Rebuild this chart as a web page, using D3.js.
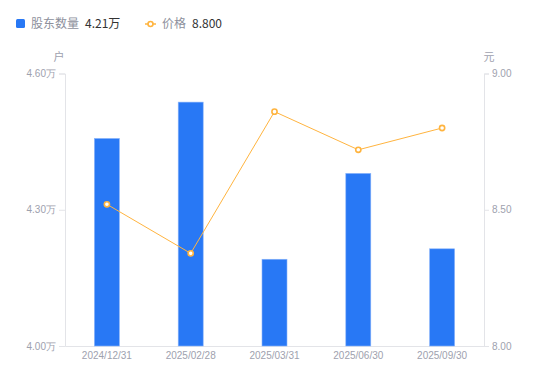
<!DOCTYPE html>
<html>
<head>
<meta charset="utf-8">
<script src="https://cdn.jsdelivr.net/npm/d3@7"></script>
<style>
  html, body { margin: 0; padding: 0; background: #fff; }
  svg { display: block; font-family: "Noto Sans CJK SC", "Noto Sans", sans-serif; }
</style>
</head>
<body>
<div id="chart"></div>
<script>
// 数据
const dates = ['2024/12/31', '2025/02/28', '2025/03/31', '2025/06/30', '2025/09/30'];
const holders = [4.457, 4.537, 4.191, 4.380, 4.214]; // 股东数量 (万户)
const prices = [8.52, 8.34, 8.86, 8.72, 8.80];       // 价格 (元)
const holderTicks = [4.00, 4.30, 4.60];
const priceTicks = [8.00, 8.50, 9.00];

const width = 550, height = 381;
const margin = { top: 73.5, right: 66, bottom: 35, left: 65 };

const barColor = '#2878f5';
const lineColor = '#ffb43f';
const axisColor = '#e3e4e8';
const textColor = '#9ea1ae';

const svg = d3.select('#chart').append('svg')
    .attr('width', width)
    .attr('height', height);

// 比例尺
const x = d3.scaleBand()
    .domain(dates)
    .range([margin.left, width - margin.right]);

const yLeft = d3.scaleLinear()
    .domain([4.00, 4.60])
    .range([height - margin.bottom, margin.top]);

const yRight = d3.scaleLinear()
    .domain([8.00, 9.00])
    .range([height - margin.bottom, margin.top]);

// 左轴
const leftAxis = svg.append('g')
    .attr('transform', `translate(${margin.left},0)`)
    .call(d3.axisLeft(yLeft).tickValues(holderTicks).tickSize(6).tickPadding(3)
        .tickFormat(d => d.toFixed(2) + '万'));

// 右轴
const rightAxis = svg.append('g')
    .attr('transform', `translate(${width - margin.right},0)`)
    .call(d3.axisRight(yRight).tickValues(priceTicks).tickSize(5).tickPadding(3)
        .tickFormat(d => d.toFixed(2)));

[leftAxis, rightAxis].forEach(g => {
    g.select('.domain').attr('stroke', axisColor);
    g.selectAll('.tick line').attr('stroke', axisColor);
    g.selectAll('.tick text').attr('fill', textColor).style('font-size', '10px');
});

// 底轴
const bottomAxis = svg.append('g')
    .attr('transform', `translate(0,${height - margin.bottom})`)
    .call(d3.axisBottom(x).tickSize(0).tickPadding(6));
bottomAxis.select('.domain').attr('stroke', axisColor);
bottomAxis.selectAll('.tick text').attr('fill', textColor).style('font-size', '10px');

// 单位
svg.append('text')
    .attr('x', margin.left - 6).attr('y', 61)
    .attr('text-anchor', 'middle')
    .attr('fill', textColor).style('font-size', '11px')
    .text('户');
svg.append('text')
    .attr('x', width - margin.right + 5).attr('y', 61)
    .attr('text-anchor', 'middle')
    .attr('fill', textColor).style('font-size', '11px')
    .text('元');

// 柱子
const barWidth = 25;
svg.append('g').selectAll('rect')
    .data(holders)
    .enter().append('rect')
    .attr('x', (d, i) => x(dates[i]) + x.bandwidth() / 2 - barWidth / 2)
    .attr('y', d => yLeft(d))
    .attr('width', barWidth)
    .attr('height', d => yLeft(4.00) - yLeft(d))
    .attr('fill', barColor)
    .attr('stroke', '#8ab4fa')
    .attr('stroke-width', 0.6);

// 折线
const line = d3.line()
    .x((d, i) => x(dates[i]) + x.bandwidth() / 2)
    .y(d => yRight(d));

svg.append('path')
    .datum(prices)
    .attr('fill', 'none')
    .attr('stroke', lineColor)
    .attr('stroke-width', 1)
    .attr('d', line);

svg.append('g').selectAll('circle')
    .data(prices)
    .enter().append('circle')
    .attr('cx', (d, i) => x(dates[i]) + x.bandwidth() / 2)
    .attr('cy', d => yRight(d))
    .attr('r', 2.6)
    .attr('fill', '#fff')
    .attr('stroke', lineColor)
    .attr('stroke-width', 1.6);

// 图例
const legend = svg.append('g').style('font-size', '12px');

legend.append('rect')
    .attr('x', 16).attr('y', 19)
    .attr('width', 9).attr('height', 9)
    .attr('rx', 1.5)
    .attr('fill', barColor);
legend.append('text')
    .attr('x', 31).attr('y', 28)
    .attr('fill', '#8d909c')
    .text('股东数量');
legend.append('text')
    .attr('x', 85).attr('y', 28)
    .attr('fill', '#333')
    .text(holders[holders.length - 1].toFixed(2) + '万');

legend.append('line')
    .attr('x1', 145).attr('x2', 156)
    .attr('y1', 24).attr('y2', 24)
    .attr('stroke', lineColor)
    .attr('stroke-width', 1.5);
legend.append('circle')
    .attr('cx', 150.5).attr('cy', 24)
    .attr('r', 2.5)
    .attr('fill', '#fff')
    .attr('stroke', lineColor)
    .attr('stroke-width', 1.6);
legend.append('text')
    .attr('x', 162).attr('y', 28)
    .attr('fill', '#8d909c')
    .text('价格');
legend.append('text')
    .attr('x', 192).attr('y', 28)
    .attr('fill', '#333')
    .text(prices[prices.length - 1].toFixed(3));
</script>
</body>
</html>
